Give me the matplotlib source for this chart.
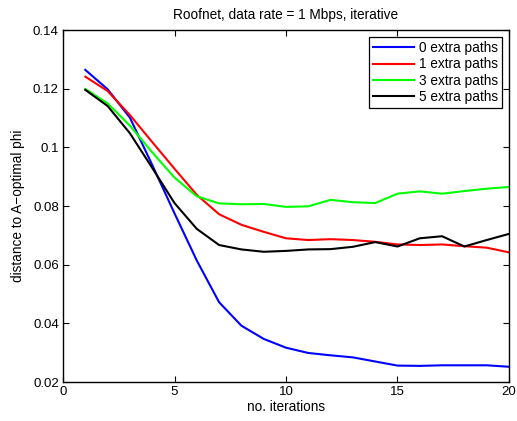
import matplotlib
matplotlib.use("Agg")
import matplotlib.pyplot as plt

# ===== Data ===================================================================

iterations = list(range(1, 21))

extra0 = [0.1264, 0.1198, 0.1101, 0.0940, 0.0775, 0.0614, 0.0472, 0.0392,
          0.0347, 0.0317, 0.0299, 0.0291, 0.0284, 0.0270, 0.0256, 0.0255,
          0.0257, 0.0257, 0.0257, 0.0252]
extra1 = [0.1241, 0.1192, 0.1110, 0.1018, 0.0927, 0.0838, 0.0772, 0.0736,
          0.0712, 0.0690, 0.0684, 0.0687, 0.0684, 0.0678, 0.0669, 0.0667,
          0.0669, 0.0663, 0.0658, 0.0642]
extra3 = [0.1199, 0.1150, 0.1074, 0.0983, 0.0897, 0.0833, 0.0809, 0.0806,
          0.0807, 0.0797, 0.0799, 0.0821, 0.0813, 0.0810, 0.0842, 0.0850,
          0.0842, 0.0851, 0.0859, 0.0865]
extra5 = [0.1196, 0.1141, 0.1048, 0.0930, 0.0810, 0.0722, 0.0667, 0.0652,
          0.0644, 0.0647, 0.0652, 0.0653, 0.0661, 0.0677, 0.0662, 0.0690,
          0.0697, 0.0662, 0.0684, 0.0705]

series = [
    (extra0, "0 extra paths", (0, 0, 1)),
    (extra1, "1 extra paths", (1, 0, 0)),
    (extra3, "3 extra paths", (0, 1, 0)),
    (extra5, "5 extra paths", (0, 0, 0)),
]

# ===== Plot ===================================================================

plt.rcParams["font.family"] = ["Liberation Sans", "DejaVu Sans"]
plt.rcParams["font.size"] = 10

fig = plt.figure(figsize=(5.17, 4.21), dpi=100)
ax = fig.add_axes([0.1219, 0.0926, 0.8626, 0.8361])

for values, label, color in series:
    ax.plot(iterations, values, color=color, linewidth=1.5, label=label)

ax.set_xlim(0, 20)
ax.set_ylim(0.02, 0.14)
ax.set_xticks([0, 5, 10, 15, 20])
ax.set_yticks([0.02, 0.04, 0.06, 0.08, 0.1, 0.12, 0.14])
ax.set_yticklabels(["0.02", "0.04", "0.06", "0.08", "0.1", "0.12", "0.14"])
ax.tick_params(direction="in", top=True, right=True, length=4, width=0.8,
               labelsize=9.5, pad=3)
for spine in ax.spines.values():
    spine.set_linewidth(1.0)

ax.set_title("Roofnet, data rate = 1 Mbps, iterative", fontsize=9.8, pad=8)
ax.set_xlabel("no. iterations", fontsize=9.8, labelpad=1)
ax.set_ylabel("distance to A\u2212optimal phi", fontsize=9.8, labelpad=6)

leg = ax.legend(loc="upper right", fancybox=False, framealpha=1,
                edgecolor="black", fontsize=9.8, handlelength=3.0,
                borderaxespad=0.5, labelspacing=0.18, borderpad=0.3,
                handletextpad=0.4)
leg.get_frame().set_linewidth(0.9)

fig.savefig("out.png", dpi=100)
